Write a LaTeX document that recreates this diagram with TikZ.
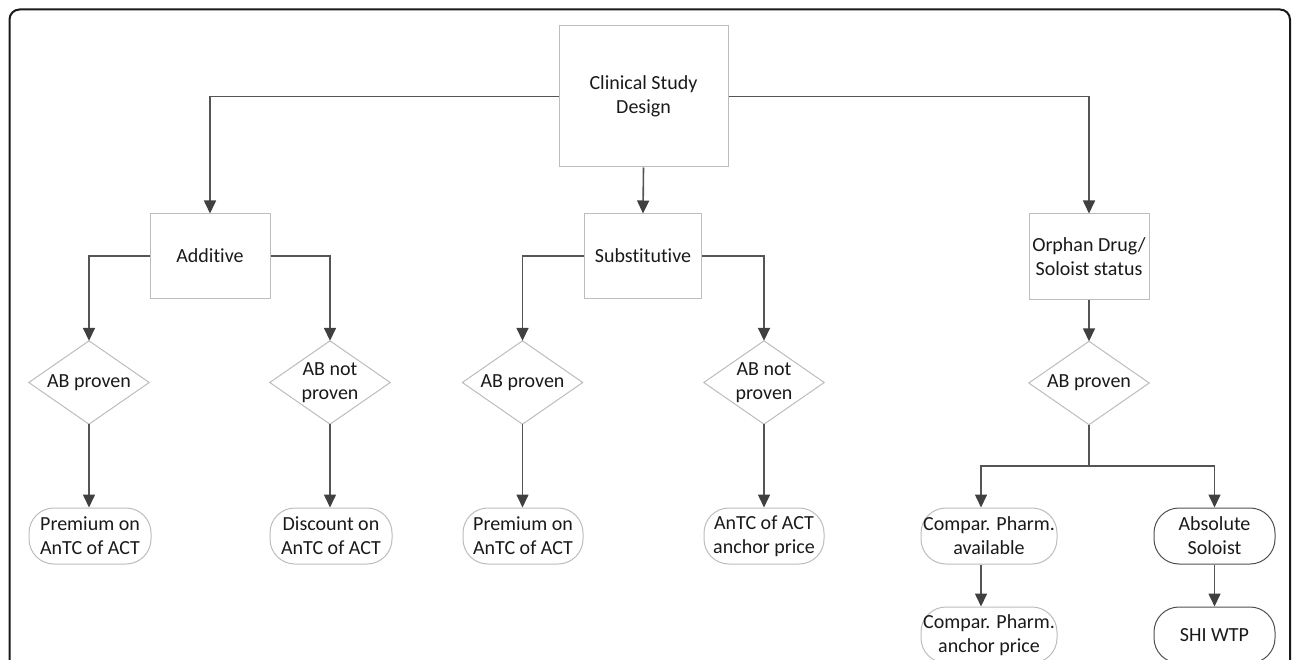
\documentclass[tikz,border=0pt]{standalone}
\usepackage{fontspec}
\setmainfont{Carlito}[Ligatures=NoCommon]
\usetikzlibrary{arrows.meta}
\definecolor{txt}{HTML}{1A1A1A}
\definecolor{boxgray}{HTML}{BDBDBD}
\definecolor{linegray}{HTML}{555555}
\definecolor{tipgray}{HTML}{404040}
\definecolor{darkedge}{HTML}{505050}
\definecolor{framec}{HTML}{1A1A1A}
\tikzset{
  lbl/.style={text=txt, align=center, inner sep=0pt, font=\fontsize{20}{24}\selectfont},
  sqbox/.style={lbl, draw=boxgray, line width=1pt, rectangle},
  dia/.style={lbl, rectangle, minimum width=120pt, minimum height=83pt},
  term/.style={lbl, draw=boxgray, line width=1pt, rounded corners=25pt, minimum height=56pt},
  termdark/.style={term, draw=darkedge},
  conn/.style={draw=linegray, line width=1.6pt},
  arr/.style={conn, -{Triangle[length=13pt,width=12pt,fill=tipgray,color=tipgray]}},
}
\begin{document}
\begin{tikzpicture}[x=1pt,y=-1pt]
\useasboundingbox (0,0) rectangle (1295,660);
\clip (0,0) rectangle (1295,660);
\fill[white] (0,0) rectangle (1295,660);
\draw[framec, line width=2pt, rounded corners=10pt] (9.5,9.5) rectangle (1290,720);

% level 0
\node[sqbox, minimum width=169pt, minimum height=141pt] (top) at (643.5,96.5) {Clinical Study\\Design};
% level 1
\node[sqbox, minimum width=120pt, minimum height=84pt] (add) at (210,256) {Additive};
\node[sqbox, minimum width=117pt, minimum height=84pt] (sub) at (643,256) {Substitutive};
\node[sqbox, minimum width=120pt, minimum height=85pt] (orph) at (1089,256.5) {Orphan Drug/\\Soloist status};
% diamonds
\node[dia] (d1) at (89,382.5) {AB proven};
\node[dia] (d2) at (330,382.5) {AB not\\proven};
\node[dia] (d3) at (522.5,382.5) {AB proven};
\node[dia] (d4) at (764,382.5) {AB not\\proven};
\node[dia] (d5) at (1089,383) {AB proven};
\foreach \d in {d1,d2,d3,d4,d5}{
  \draw[boxgray, line width=1pt] (\d.north) -- (\d.east) -- (\d.south) -- (\d.west) -- cycle;
}
% terminals
\node[term, minimum width=122pt] (t1) at (90,536) {Premium on\\AnTC of ACT};
\node[term, minimum width=122pt] (t2) at (331,536) {Discount on\\AnTC of ACT};
\node[term, minimum width=120pt] (t3) at (523,536) {Premium on\\AnTC of ACT};
\node[term, minimum width=120pt] (t4) at (764,536) {AnTC of ACT\\anchor price};
\node[term, minimum width=136pt] (c1) at (989,536) {Compar. Pharm.\\available};
\node[termdark, minimum width=121pt] (c2) at (1214.5,536) {Absolute\\Soloist};
\node[term, minimum width=136pt] (c3) at (989,635) {Compar. Pharm.\\anchor price};
\node[termdark, minimum width=121pt] (c4) at (1214.5,635) {SHI WTP};

% connectors
\draw[arr] (top.west) -| (add.north);
\draw[arr] (top.south) -- (sub.north);
\draw[arr] (top.east) -| (orph.north);
\draw[arr] (add.west) -| (d1.north);
\draw[arr] (add.east) -| (d2.north);
\draw[arr] (sub.west) -| (d3.north);
\draw[arr] (sub.east) -| (d4.north);
\draw[arr] (orph.south) -- (d5.north);
\draw[arr] (d1.south) -- (d1.south |- t1.north);
\draw[arr] (d2.south) -- (d2.south |- t2.north);
\draw[arr] (d3.south) -- (d3.south |- t3.north);
\draw[arr] (d4.south) -- (d4.south |- t4.north);
\coordinate (br) at (1089,466);
\draw[conn] (d5.south) -- (br);
\draw[arr] (br) -| ([xshift=-8pt]c1.north);
\draw[arr] (br) -| (c2.north);
\draw[arr] ([xshift=-8pt]c1.south) -- ([xshift=-8pt]c3.north);
\draw[arr] (c2.south) -- (c4.north);
\end{tikzpicture}
\end{document}
